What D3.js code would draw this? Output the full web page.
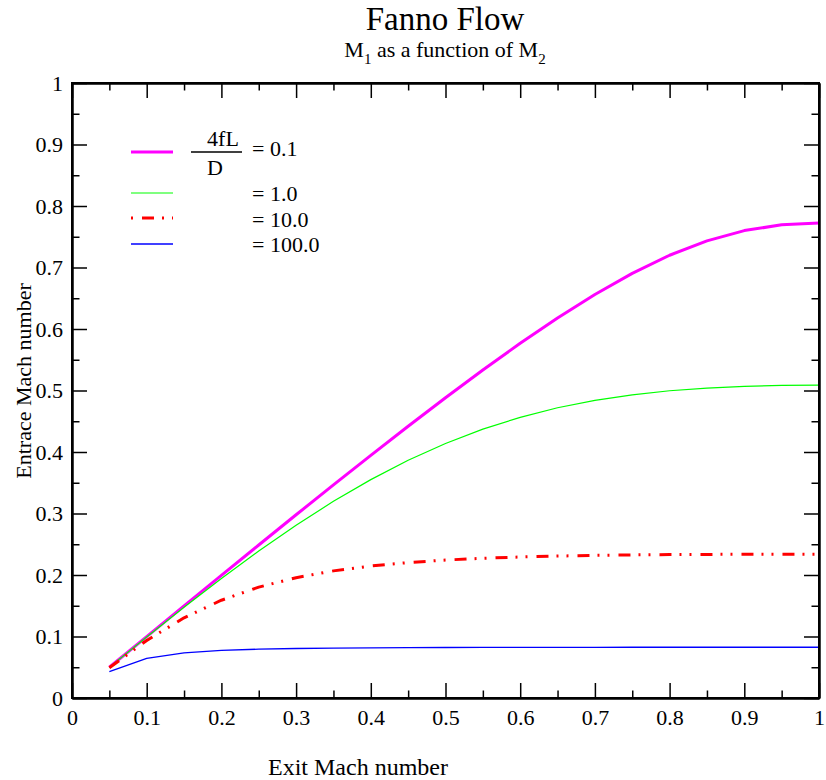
<!DOCTYPE html>
<html><head><meta charset="utf-8">
<script src="https://cdn.jsdelivr.net/npm/d3@7"></script>
<style>
body{margin:0;background:#fff;}
svg{display:block;}
</style></head>
<body><svg id="c" width="826" height="780"></svg>
<script>
const exitMach = [0.05,0.10,0.15,0.20,0.25,0.30,0.35,0.40,0.45,0.50,0.55,0.60,0.65,0.70,0.75,0.80,0.85,0.90,0.95,1.00];
const m1_f01   = [0.0500,0.0999,0.1498,0.1994,0.2488,0.2979,0.3465,0.3946,0.4418,0.4883,0.5334,0.5767,0.6178,0.6560,0.6904,0.7199,0.7433,0.7600,0.7694,0.7723];
const m1_f1    = [0.0499,0.0993,0.1476,0.1944,0.2390,0.2809,0.3198,0.3551,0.3866,0.4139,0.4372,0.4564,0.4719,0.4839,0.4930,0.4996,0.5040,0.5068,0.5083,0.5088];
const m1_f10   = [0.0491,0.0936,0.1304,0.1590,0.1803,0.1956,0.2067,0.2146,0.2202,0.2243,0.2272,0.2293,0.2308,0.2319,0.2327,0.2332,0.2335,0.2337,0.2338,0.2339];
const m1_f100  = [0.0430,0.0644,0.0733,0.0773,0.0794,0.0805,0.0812,0.0816,0.0819,0.0821,0.0822,0.0823,0.0824,0.0824,0.0825,0.0825,0.0825,0.0825,0.0825,0.0825];
const legendLabels = ["= 0.1","= 1.0","= 10.0","= 100.0"];
const xTicks = [0,0.1,0.2,0.3,0.4,0.5,0.6,0.7,0.8,0.9,1];
const yTicks = [0,0.1,0.2,0.3,0.4,0.5,0.6,0.7,0.8,0.9,1];
const minorTicks = [0.05,0.15,0.25,0.35,0.45,0.55,0.65,0.75,0.85,0.95];
const titleText = "Fanno Flow";
const xLabel = "Exit Mach number";
const yLabel = "Entrace Mach number";

const FONT = '"Liberation Serif", "Times New Roman", serif';
const series = [
  {vals:m1_f01, color:"#ff00ff", width:3, dash:null},
  {vals:m1_f1,  color:"#00ff00", width:1.2, dash:null},
  {vals:m1_f10, color:"#ff0000", width:3, dash:"12,8,2,8,2,9"},
  {vals:m1_f100,color:"#0000ff", width:1.3, dash:null}
];

const svg = d3.select("#c");
const L=72,R=819,T=83,B=698;
const x = d3.scaleLinear().domain([0,1]).range([L,R]);
const y = d3.scaleLinear().domain([0,1]).range([B,T]);

function txt(sel){ return sel.style("font-family",FONT).attr("fill","#000"); }

// curves
const line = d3.line().x((d,i)=>x(exitMach[i])).y(d=>y(d));
series.forEach(s=>{
  svg.append("path").datum(s.vals).attr("d",line)
    .attr("fill","none").attr("stroke",s.color).attr("stroke-width",s.width)
    .attr("stroke-dasharray",s.dash).attr("stroke-linejoin","round");
});

// axes with inward ticks
function ax(gen, tr, vals, size, labels){
  const g = svg.append("g").attr("transform",tr)
    .call(gen.tickValues(vals).tickSize(size).tickSizeOuter(0).tickFormat(labels?d3.format("~g"):""));
  g.select(".domain").attr("stroke","#000").attr("stroke-width",2);
  g.selectAll(".tick line").attr("stroke","#000").attr("stroke-width",1.5);
  txt(g.selectAll(".tick text")).attr("font-size",22);
  return g;
}
const bx = ax(d3.axisBottom(x), `translate(0,${B})`, xTicks, -15, true);
bx.selectAll(".tick text").attr("y",11).attr("dy","0.71em");
ax(d3.axisBottom(x), `translate(0,${B})`, minorTicks, -7.5, false);
ax(d3.axisTop(x), `translate(0,${T})`, xTicks, -15, false);
ax(d3.axisTop(x), `translate(0,${T})`, minorTicks, -7.5, false);
const ly = ax(d3.axisLeft(y), `translate(${L},0)`, yTicks, -15, true);
ly.selectAll(".tick text").attr("x",-9);
ax(d3.axisLeft(y), `translate(${L},0)`, minorTicks, -7.5, false);
ax(d3.axisRight(y), `translate(${R},0)`, yTicks, -15, false);
ax(d3.axisRight(y), `translate(${R},0)`, minorTicks, -7.5, false);
svg.append("rect").attr("x",L).attr("y",T).attr("width",R-L).attr("height",B-T)
  .attr("fill","none").attr("stroke","#000").attr("stroke-width",2);

// titles
txt(svg.append("text")).attr("x",445).attr("y",30).attr("text-anchor","middle")
  .attr("font-size",33).text(titleText);
const sub = txt(svg.append("text")).attr("x",445).attr("y",57).attr("text-anchor","middle").attr("font-size",22);
sub.append("tspan").text("M");
sub.append("tspan").attr("font-size",15).attr("dy",7).text("1");
sub.append("tspan").attr("dy",-7).text(" as a function of M");
sub.append("tspan").attr("font-size",15).attr("dy",7).text("2");

txt(svg.append("text")).attr("x",358).attr("y",775).attr("text-anchor","middle")
  .attr("font-size",24).text(xLabel);
txt(svg.append("text")).attr("transform","translate(31,381) rotate(-90)").attr("text-anchor","middle")
  .attr("font-size",22).text(yLabel);

// legend
const legY = [152,193,218,244];
const legTY = [156,201,227,252];
series.forEach((s,i)=>{
  svg.append("line").attr("x1",131).attr("x2",173).attr("y1",legY[i]).attr("y2",legY[i])
    .attr("stroke",s.color).attr("stroke-width",s.width).attr("stroke-dasharray",s.dash)
    .attr("stroke-dashoffset", s.dash? 30 : null);
  txt(svg.append("text")).attr("x",252).attr("y",legTY[i]).attr("font-size",22).text(legendLabels[i]);
});
svg.append("line").attr("x1",191).attr("x2",242).attr("y1",152).attr("y2",152).attr("stroke","#000").attr("stroke-width",1.5);
txt(svg.append("text")).attr("x",223).attr("y",146).attr("text-anchor","middle").attr("font-size",22).text("4fL");
txt(svg.append("text")).attr("x",215).attr("y",175).attr("text-anchor","middle").attr("font-size",22).text("D");
</script></body></html>
